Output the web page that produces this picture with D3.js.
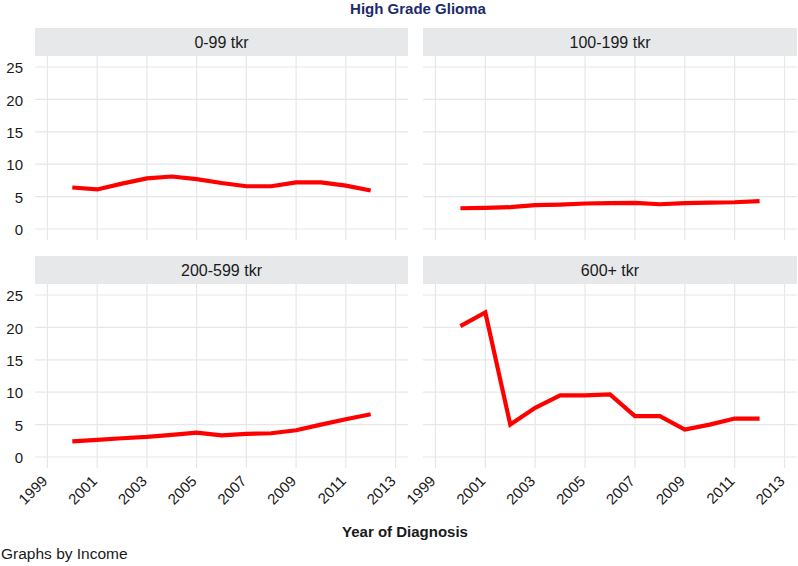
<!DOCTYPE html>
<html>
<head>
<meta charset="utf-8">
<script src="https://cdn.jsdelivr.net/npm/d3@7"></script>
<style>
  html, body { margin: 0; padding: 0; background: #fff; }
  svg { display: block; font-family: "Liberation Sans", Arial, sans-serif; }
</style>
</head>
<body>
<svg id="chart" width="798" height="566"></svg>
<script>
const years = [2000, 2001, 2002, 2003, 2004, 2005, 2006, 2007, 2008, 2009, 2010, 2011, 2012];
const panelNames = ["0-99 tkr", "100-199 tkr", "200-599 tkr", "600+ tkr"];
const income0_99   = [6.4, 6.1, 7.0, 7.8, 8.1, 7.7, 7.1, 6.6, 6.6, 7.2, 7.2, 6.7, 5.95];
const income100_199 = [3.2, 3.26, 3.36, 3.67, 3.77, 3.93, 3.98, 4.03, 3.82, 3.98, 4.08, 4.13, 4.29];
const income200_599 = [2.42, 2.63, 2.89, 3.1, 3.4, 3.76, 3.35, 3.56, 3.66, 4.12, 5.0, 5.83, 6.6];
const income600 = [20.2, 22.3, 5.0, 7.58, 9.5, 9.5, 9.65, 6.3, 6.3, 4.23, 5.0, 5.93, 5.93];
const xTicks = [1999, 2001, 2003, 2005, 2007, 2009, 2011, 2013];
const yTicks = [0, 5, 10, 15, 20, 25];
const titleText = "High Grade Glioma";
const xTitle = "Year of Diagnosis";
const noteText = "Graphs by Income";

const seriesList = [income0_99, income100_199, income200_599, income600];

const svg = d3.select("#chart");

const cols = [{x0: 35, x1: 408}, {x0: 423, x1: 797}];
const rows = [{s0: 28, p0: 56, p1: 240}, {s0: 256, p0: 284, p1: 468}];

svg.append("text")
  .attr("x", 418).attr("y", 14)
  .attr("text-anchor", "middle")
  .attr("font-size", 15).attr("font-weight", "bold")
  .attr("fill", "#1b2b6b")
  .text(titleText);

panelNames.forEach((name, i) => {
  const c = cols[i % 2], r = rows[Math.floor(i / 2)];
  const g = svg.append("g");
  const x = d3.scaleLinear().domain([1998.5, 2013.5]).range([c.x0, c.x1]);
  const y = d3.scaleLinear().domain([-1.7, 26.7]).range([r.p1, r.p0]);

  // strip
  g.append("rect").attr("x", c.x0).attr("y", r.s0)
    .attr("width", c.x1 - c.x0).attr("height", r.p0 - r.s0)
    .attr("fill", "#e6e8ea");
  g.append("text").attr("x", (c.x0 + c.x1) / 2).attr("y", (r.s0 + r.p0) / 2)
    .attr("dy", "0.36em").attr("text-anchor", "middle")
    .attr("font-size", 16).attr("fill", "#1a1a1a").text(name);

  // grid
  g.append("g").selectAll("line.h").data(yTicks).join("line")
    .attr("x1", c.x0).attr("x2", c.x1)
    .attr("y1", d => y(d)).attr("y2", d => y(d))
    .attr("stroke", "#e6e7e8").attr("stroke-width", 1.2);
  g.append("g").selectAll("line.v").data(xTicks).join("line")
    .attr("x1", d => x(d)).attr("x2", d => x(d))
    .attr("y1", r.p0).attr("y2", r.p1)
    .attr("stroke", "#e6e7e8").attr("stroke-width", 1.2);

  // y labels on left column
  if (i % 2 === 0) {
    g.append("g").selectAll("text").data(yTicks).join("text")
      .attr("x", 23).attr("y", d => y(d)).attr("dy", "0.42em")
      .attr("text-anchor", "end").attr("font-size", 15).attr("fill", "#1a1a1a")
      .text(d => d);
  }
  // x labels on bottom row
  if (i >= 2) {
    g.append("g").selectAll("text").data(xTicks).join("text")
      .attr("transform", d => `translate(${x(d) + 1},${r.p1 + 14}) rotate(-45)`)
      .attr("text-anchor", "end").attr("font-size", 15).attr("fill", "#1a1a1a")
      .text(d => d);
  }

  const line = d3.line().x((d, k) => x(years[k])).y(d => y(d));
  g.append("path").datum(seriesList[i])
    .attr("d", line).attr("fill", "none")
    .attr("stroke", "#ff0000").attr("stroke-width", 4.2)
    .attr("stroke-linejoin", "miter");
});

svg.append("text")
  .attr("x", 405).attr("y", 537)
  .attr("text-anchor", "middle")
  .attr("font-size", 15).attr("font-weight", "bold").attr("fill", "#1a1a1a")
  .text(xTitle);

svg.append("text")
  .attr("x", 1).attr("y", 559)
  .attr("font-size", 15.5).attr("fill", "#1a1a1a")
  .text(noteText);
</script>
</body>
</html>
